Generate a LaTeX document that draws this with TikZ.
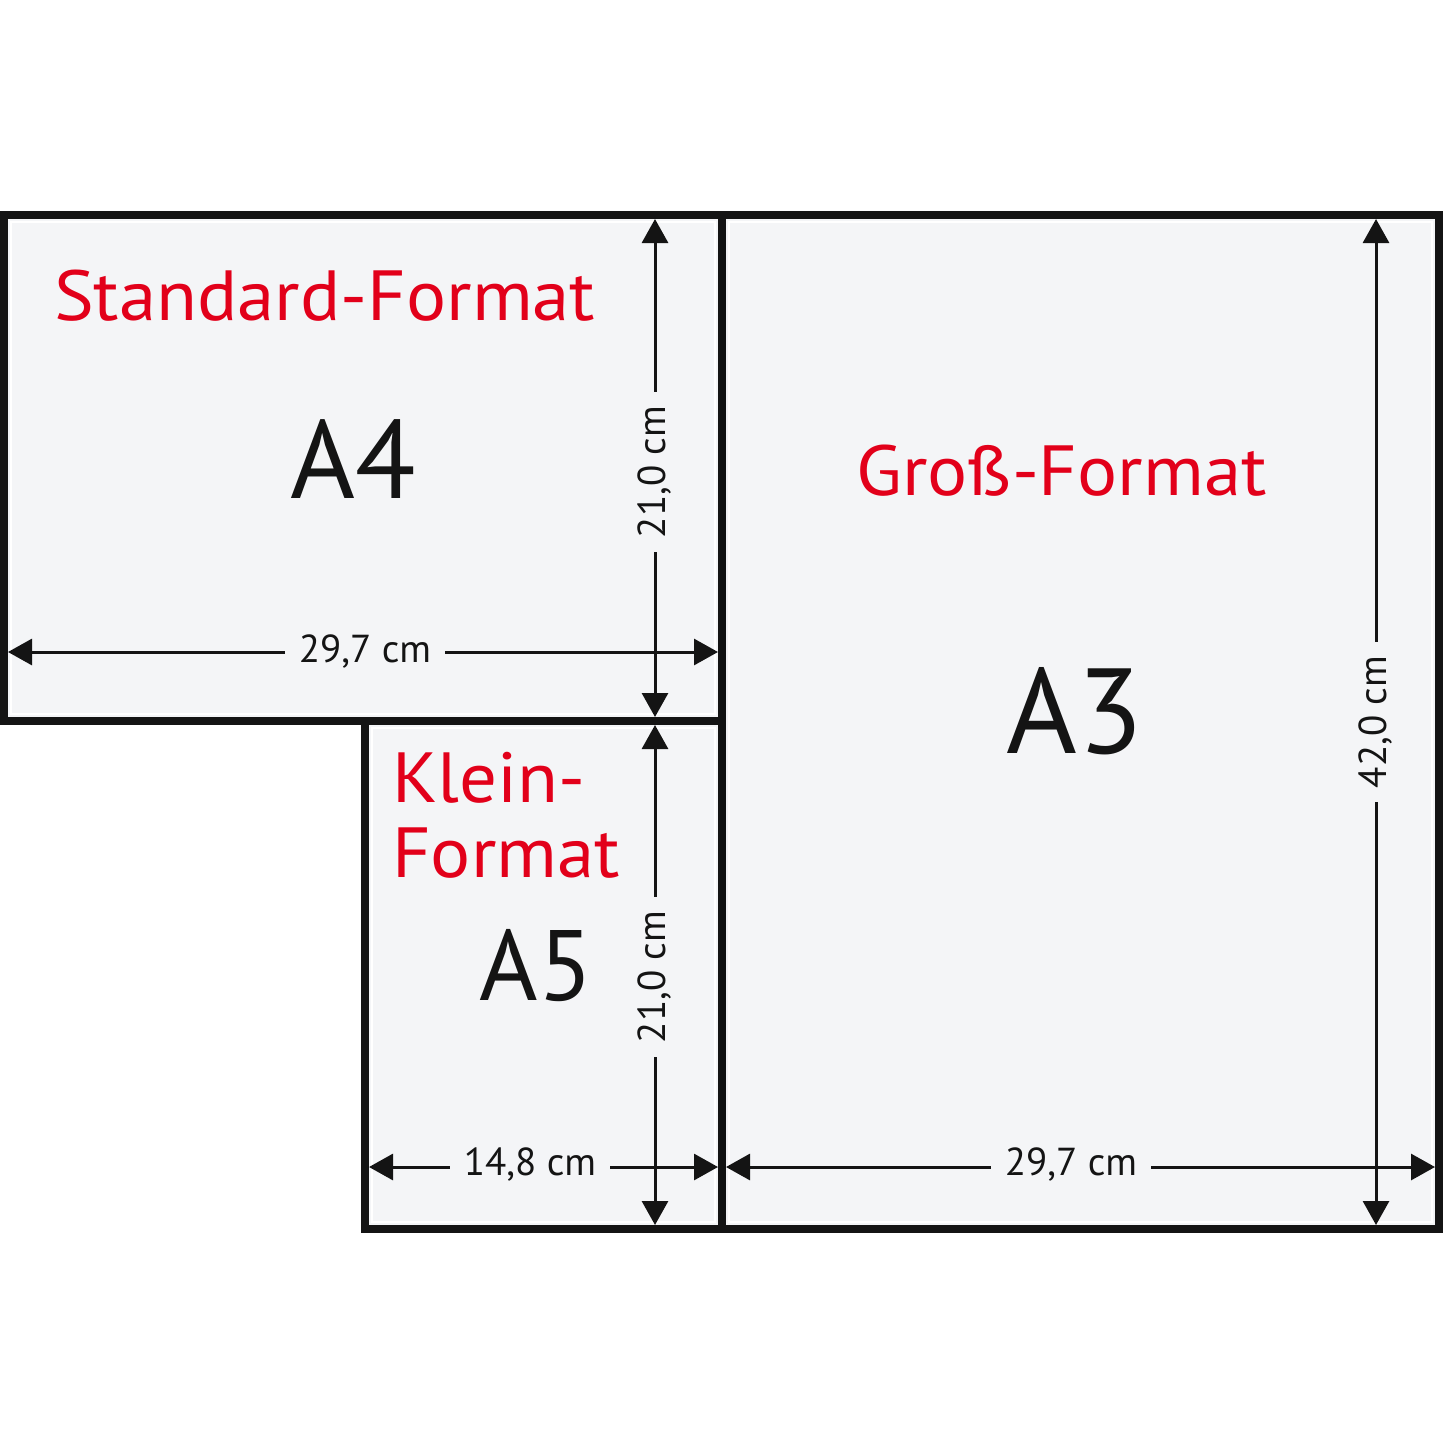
\documentclass[tikz,border=0pt]{standalone}
\usepackage{fontspec}
\setmainfont{PT Sans}
\newfontfamily\widefont[FakeStretch=1.055]{PT Sans}
\usetikzlibrary{arrows.meta}
\definecolor{paper}{HTML}{F4F5F7}
\definecolor{fred}{HTML}{E2001A}
\definecolor{ink}{HTML}{141414}
\tikzset{
  sheet/.style={draw=ink, line width=7.5pt, fill=paper},
  innerline/.style={draw=white, line width=1.5pt},
  dimline/.style={draw=ink, line width=3pt, {Triangle[length=24pt,width=26pt]}-{Triangle[length=24pt,width=26pt]}},
  dimlabel/.style={fill=paper, text=ink, inner xsep=14pt, inner ysep=2pt, font=\fontsize{39}{39}\selectfont},
  redlabel/.style={text=fred, inner sep=0pt, font=\widefont\fontsize{71}{71}\selectfont},
  biglabel/.style={text=ink, inner sep=0pt},
}
\begin{document}
\begin{tikzpicture}[x=1pt,y=-1pt]
\useasboundingbox (0,0) rectangle (1445,1445);
\fill[white] (0,0) rectangle (1445,1445);
% sheets
\draw[sheet] (4,215) rectangle (722,721);
\draw[sheet] (722,215) rectangle (1439,1229);
\draw[sheet] (365,721) rectangle (722,1229);
\draw[innerline] (11,222) rectangle (715,714);
\draw[innerline] (729,222) rectangle (1432,1222);
\draw[innerline] (372,728) rectangle (715,1222);
% named end points of the dimension lines
\coordinate (a4l) at (8,652);   \coordinate (a4r) at (718,652);
\coordinate (a4t) at (655,219); \coordinate (a4b) at (655,717);
\coordinate (a5t) at (655,725); \coordinate (a5b) at (655,1225);
\coordinate (a5l) at (369,1167); \coordinate (a5r) at (718,1167);
\coordinate (a3l) at (726,1167); \coordinate (a3r) at (1435,1167);
\coordinate (a3t) at (1376,219); \coordinate (a3b) at (1376,1225);
% dimension lines
\draw[dimline] (a4l) -- (a4r);
\draw[dimline] (a4t) -- (a4b);
\draw[dimline] (a5t) -- (a5b);
\draw[dimline] (a5l) -- (a5r);
\draw[dimline] (a3l) -- (a3r);
\draw[dimline] (a3t) -- (a3b);
% dimension labels
\node[dimlabel] (d1) at (365,652) {29,7 cm};
\node[dimlabel, rotate=90] (d2) at (655,472) {21,0 cm};
\node[dimlabel, rotate=90] (d3) at (655,977) {21,0 cm};
\node[dimlabel] (d4) at (530,1165) {14,8 cm};
\node[dimlabel] (d5) at (1071,1165) {29,7 cm};
\node[dimlabel, rotate=90] (d6) at (1376,722) {42,0 cm};
% red titles
\node[redlabel, anchor=base west] (t1) at (54,320) {Standard-Format};
\node[redlabel, anchor=base west] (t2) at (856,495) {Groß-Format};
\node[redlabel, anchor=base west] (t3) at (392,802) {Klein-};
\node[redlabel, anchor=base west] (t4) at (392,877) {Format};
% format names
\node[biglabel, anchor=base, font=\fontsize{111}{111}\selectfont] (n1) at (353,498) {A4};
\node[biglabel, anchor=base, font=\fontsize{121}{121}\selectfont] (n2) at (1075,753) {A3};
\node[biglabel, anchor=base, font=\fontsize{100}{100}\selectfont] (n3) at (536,1000) {A5};
\end{tikzpicture}
\end{document}
